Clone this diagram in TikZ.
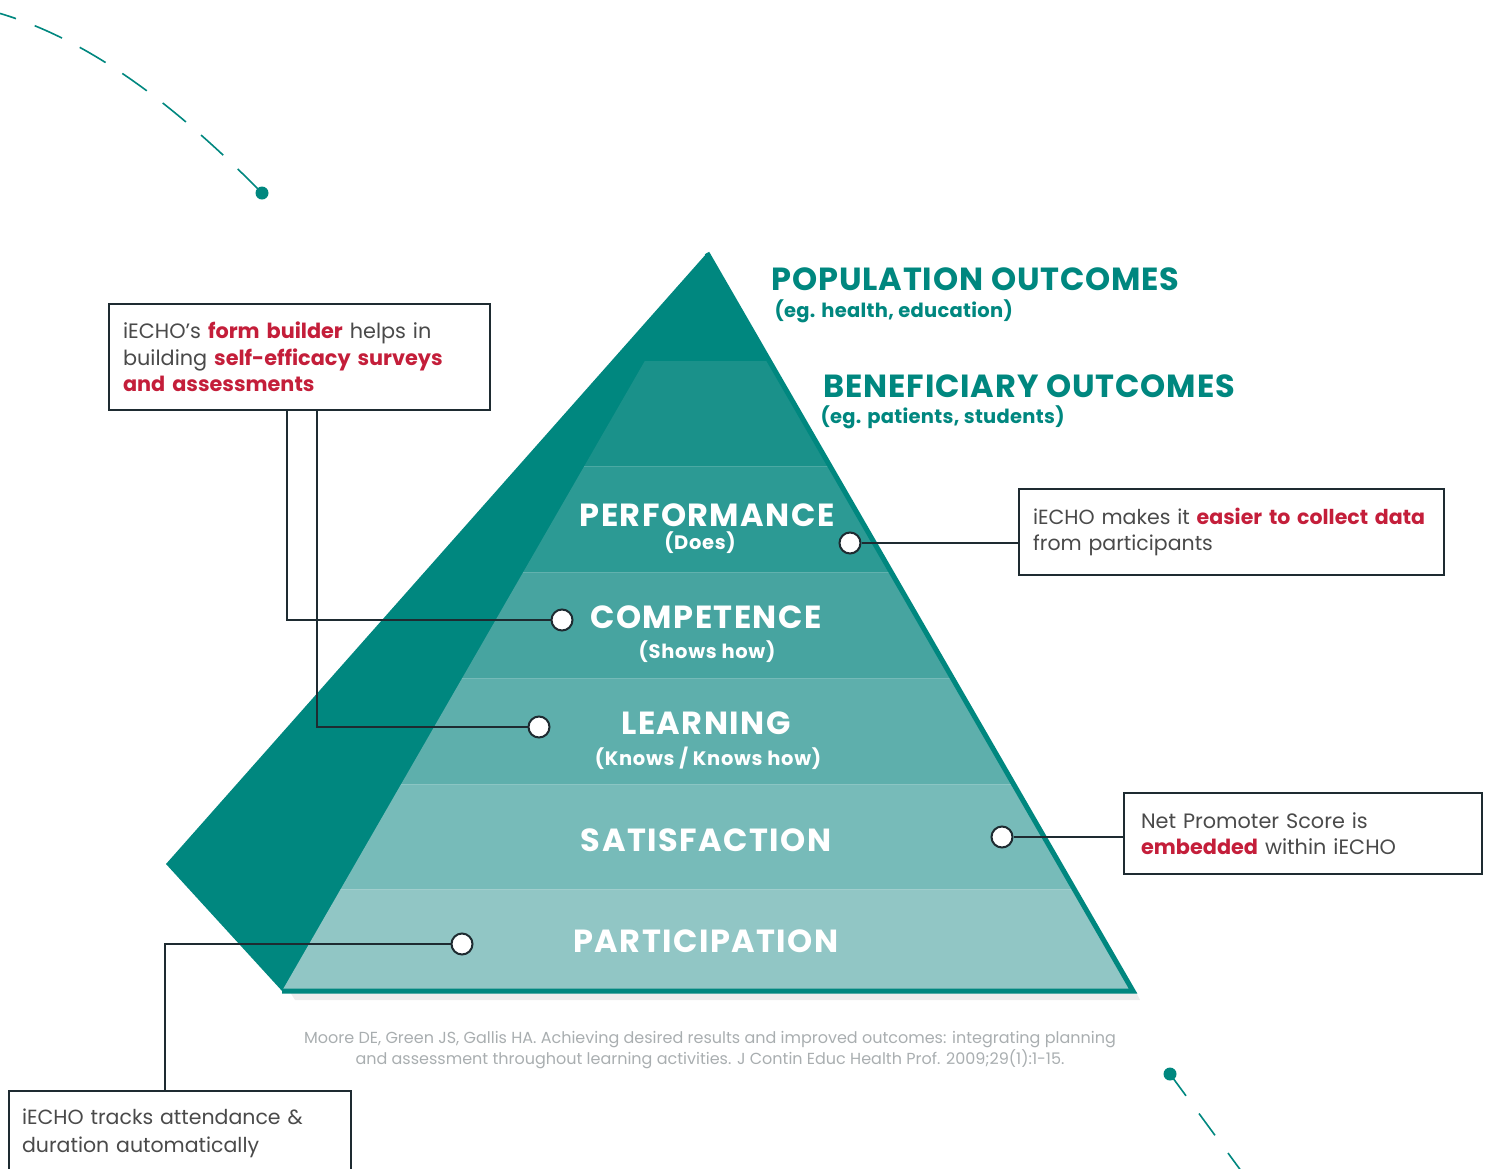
\documentclass[tikz,border=0pt]{standalone}
\usepackage{fontspec}
\setmainfont{Poppins}
\usetikzlibrary{calc}
\definecolor{tealA}{HTML}{00877F}
\definecolor{tealB}{HTML}{1A918A}
\definecolor{tealC}{HTML}{2C9A94}
\definecolor{tealD}{HTML}{47A4A0}
\definecolor{tealE}{HTML}{5EAFAC}
\definecolor{tealF}{HTML}{77BBB9}
\definecolor{tealG}{HTML}{91C6C5}
\definecolor{inkline}{HTML}{1E2B31}
\definecolor{graytxt}{HTML}{4A4A4A}
\definecolor{redtxt}{HTML}{C41E3A}
\definecolor{citegray}{HTML}{A9AEB0}
\newcommand{\hl}[1]{{\bfseries\color{redtxt}#1}}
\tikzset{
  infobox/.style={draw=inkline, line width=2.2pt, fill=white, anchor=north west,
    align=left, inner xsep=14pt, inner ysep=0pt, text=graytxt,
    font=\fontsize{20.8}{26.5}\selectfont},
  pin/.style={circle, draw=inkline, line width=2pt, fill=white, minimum size=21pt, inner sep=0pt},
  conn/.style={draw=inkline, line width=1.8pt},
  level/.style={text=white, font=\bfseries\fontsize{32}{34}\selectfont\addfontfeatures{LetterSpace=4.5}},
  sublevel/.style={text=white, font=\bfseries\fontsize{19.5}{22}\selectfont\addfontfeatures{LetterSpace=3.5}},
  outhead/.style={text=tealA, anchor=west, font=\bfseries\fontsize{32}{36}\selectfont\addfontfeatures{LetterSpace=2.7}},
  outsub/.style={text=tealA, anchor=west, font=\bfseries\fontsize{19.5}{22}\selectfont\addfontfeatures{LetterSpace=1.5}},
  dashcurve/.style={draw=tealA, line width=1.6pt, dash pattern=on 30pt off 20pt}
}
\begin{document}
\begin{tikzpicture}[x=1pt,y=-1pt]
\useasboundingbox (0,0) rectangle (1489,1168);
% shadow
\fill[black!7] (290,992) -- (1136,992) -- (1140,1000) -- (295,1000) -- cycle;
% wing and pyramid body
\fill[tealA] (707,253) -- (166,864) -- (283,992) -- (1133,991) -- cycle;
\begin{scope}
\clip (707,253) -- (282,991) -- (1133,991) -- cycle;
\fill[tealB] (0,361) rectangle (1489,466);
\fill[tealC] (0,466) rectangle (1489,572);
\fill[tealD] (0,572) rectangle (1489,678);
\fill[tealE] (0,678) rectangle (1489,784);
\fill[tealF] (0,784) rectangle (1489,889);
\fill[tealG] (0,889) rectangle (1489,991);
\draw[white, opacity=0.15, line width=0.8pt] (0,466) -- (1489,466) (0,572) -- (1489,572) (0,678) -- (1489,678) (0,784) -- (1489,784) (0,889) -- (1489,889);
\end{scope}
\draw[tealA, line width=5pt, line join=miter] (707,253) -- (1133,991) -- (282,991);

% level labels
\node[level] (perf) at (707,515) {PERFORMANCE};
\node[sublevel] (perfs) at (700,543) {(Does)};
\node[level] (comp) at (706,617) {COMPETENCE};
\node[sublevel] (comps) at (707,652) {(Shows how)};
\node[level] (lear) at (706,723) {LEARNING};
\node[sublevel] (lears) at (708,758) {(Knows / Knows how)};
\node[level] (sati) at (706,840) {SATISFACTION};
\node[level] (part) at (706,941) {PARTICIPATION};

% outcomes
\node[outhead] (pop) at (768,279) {POPULATION OUTCOMES};
\node[outsub] (pops) at (771,311) {(eg. health, education)};
\node[outhead] (ben) at (820,386) {BENEFICIARY OUTCOMES};
\node[outsub] (bens) at (817,417) {(eg. patients, students)};

% boxes
\node[infobox, text width=353pt, minimum height=106pt] (box1) at (108,303)
  {iECHO's \hl{form builder} helps in\\ building \hl{self-efficacy surveys}\\ \hl{and assessments}};
\node[infobox, text width=397pt, minimum height=86pt, font=\fontsize{20.5}{26.5}\selectfont] (box2) at (1018,488)
  {\mbox{iECHO makes it \hl{easier to collect data}}\\ from participants};
\node[infobox, text width=324pt, minimum height=81pt, inner xsep=17pt] (box3) at (1123,792)
  {Net Promoter Score is\\ \hl{embedded} within iECHO};
\node[infobox, text width=316pt, minimum height=84pt, inner xsep=13pt, font=\fontsize{20.5}{27.5}\selectfont] (box4) at (8,1090)
  {iECHO tracks attendance \&\\ duration automatically};

% pins
\node[pin] (p1) at (850,543) {};
\node[pin] (p2) at (562,620) {};
\node[pin] (p3) at (539,727) {};
\node[pin] (p4) at (1002,837) {};
\node[pin] (p5) at (462,944) {};

% connectors
\draw[conn] (p1.east) -- (p1.east -| box2.west);
\draw[conn] (p4.east) -- (p4.east -| box3.west);
\coordinate (c1) at (287,620);
\coordinate (c2) at (317,727);
\draw[conn] (box1.south -| c1) -- (c1) -- (p2.west);
\draw[conn] (box1.south -| c2) -- (c2) -- (p3.west);
\coordinate (c5) at (165,944);
\draw[conn] (p5.west) -- (c5) -- (c5 |- box4.north);

% citation
\node[text=citegray, align=center, font=\fontsize{16}{19}\selectfont] (cite) at (710,1050)
  {Moore DE, Green JS, Gallis HA. Achieving desired results and improved outcomes: integrating planning\\
   and assessment throughout learning activities. J Contin Educ Health Prof. 2009;29(1):1-15.};

% decorative dashed curves
\coordinate (d1) at (262,193);
\coordinate (d2) at (1170,1074);
\draw[dashcurve, dash phase=8pt] (-5,12) .. controls (95,40) and (185,115) .. (d1);
\fill[tealA] (d1) circle (6.5pt);
\draw[dashcurve, dash pattern=on 27pt off 22pt] (d2) -- ($(d2)!1!(1250,1183)$);
\fill[tealA] (d2) circle (6.5pt);
\end{tikzpicture}
\end{document}
